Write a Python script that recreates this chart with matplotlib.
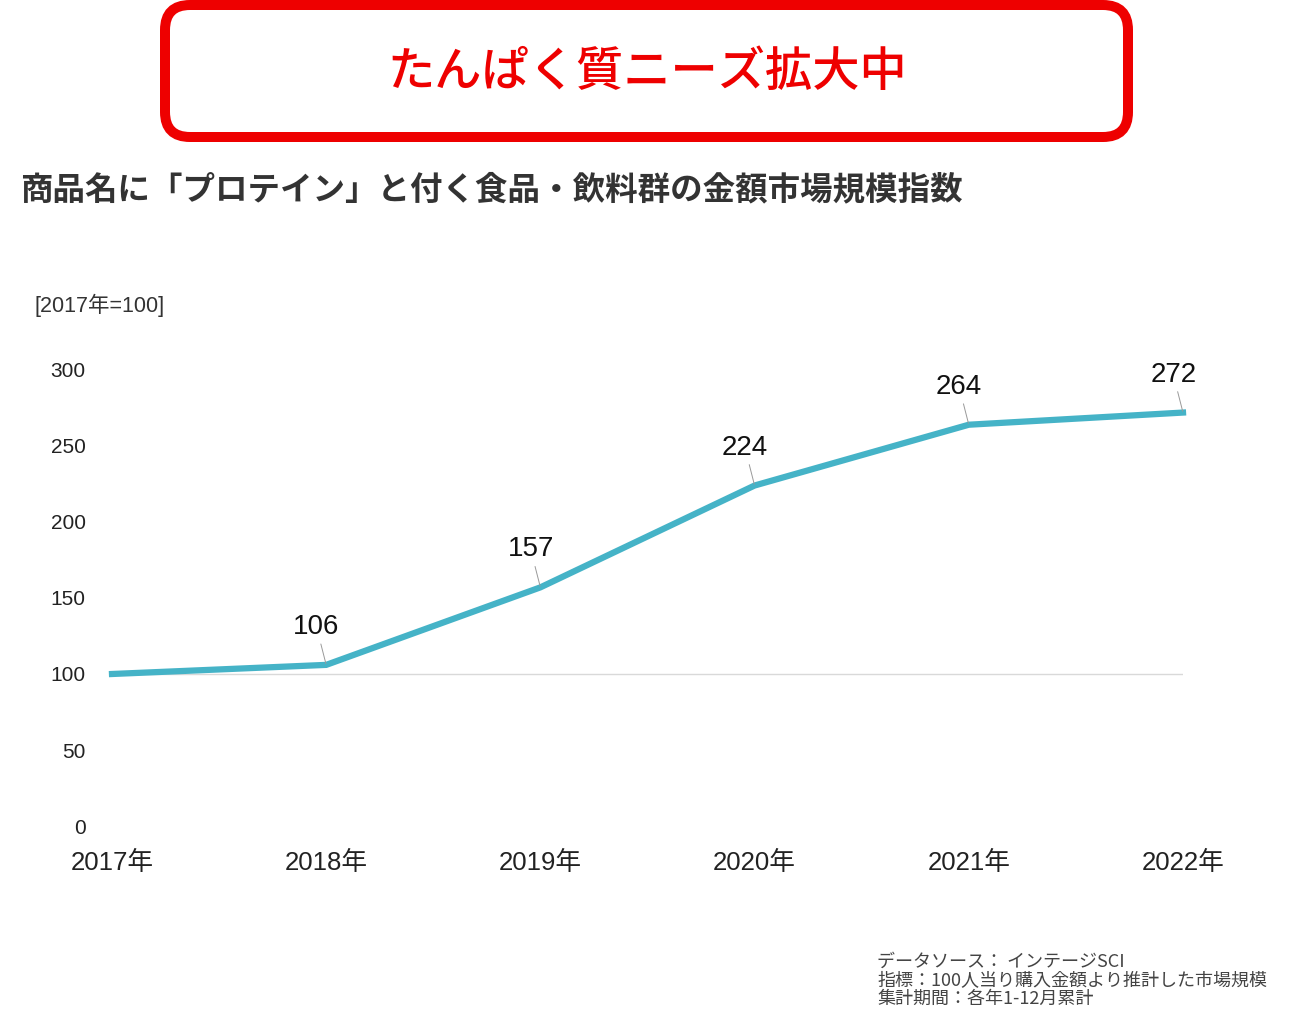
import matplotlib
matplotlib.use("Agg")
from matplotlib import pyplot as plt
from matplotlib.patches import FancyBboxPatch

plt.rcParams['font.family'] = ['Noto Sans CJK JP', 'DejaVu Sans']

# data
years = ['2017年', '2018年', '2019年', '2020年', '2021年', '2022年']
index_values = [100, 106, 157, 224, 264, 272]
y_ticks = [0, 50, 100, 150, 200, 250, 300]

headline = 'たんぱく質ニーズ拡大中'
subtitle = '商品名に「プロテイン」と付く食品・飲料群の金額市場規模指数'
unit_label = '[2017年=100]'
source_lines = ['データソース： インテージSCI',
                '指標：100人当り購入金額より推計した市場規模',
                '集計期間：各年1-12月累計']

num_font = ['Liberation Sans', 'Noto Sans CJK JP']
line_color = '#45B3C7'
red = '#EE0000'

fig = plt.figure(figsize=(12.93, 10.23), dpi=100)

# red rounded box with headline (inch coords keep corners round)
box = FancyBboxPatch((1.65, 8.86), 11.28 - 1.65, 10.18 - 8.86,
                     boxstyle='round,pad=0,rounding_size=0.25',
                     transform=fig.dpi_scale_trans, fill=False,
                     edgecolor=red, linewidth=7.2)
fig.patches.append(box)
fig.text(647 / 1293, 1 - 72 / 1023, headline, color=red, fontsize=34,
         fontweight='medium', ha='center', va='center')

fig.text(20 / 1293, 1 - 190 / 1023, subtitle, color='#333333', fontsize=23.4,
         fontweight='bold', ha='left', va='center')

fig.text(35 / 1293, 1 - 305 / 1023, unit_label, color='#333333', fontsize=15.5,
         family=num_font, ha='left', va='center')

# chart area
ax = fig.add_axes([112 / 1293, 1 - 826 / 1023, 1071 / 1293, 456 / 1023])
x = list(range(len(years)))
ax.axhline(100, color='#d9d9d9', linewidth=1, zorder=1)
ax.plot(x, index_values, color=line_color, linewidth=4.5,
        solid_joinstyle='miter', clip_on=False, zorder=3)

for xi, v in zip(x[1:], index_values[1:]):
    ax.annotate(str(v), xy=(xi, v), xytext=(-7, 18), textcoords='offset points',
                ha='center', va='bottom', fontsize=20, family=num_font,
                color='#111111',
                arrowprops=dict(arrowstyle='-', color='#999999', linewidth=0.7,
                                shrinkA=1, shrinkB=1))

ax.set_xlim(0, len(years) - 1)
ax.set_ylim(0, 300)
ax.set_yticks(y_ticks)
ax.set_yticklabels([str(t) for t in y_ticks], family=num_font, fontsize=15,
                   color='#222222')
ax.set_xticks(x)
ax.set_xticklabels(years, family=num_font, fontsize=18.5, color='#222222')
ax.tick_params(axis='y', length=0, pad=19)
ax.tick_params(axis='x', length=0, pad=18)
for s in ax.spines.values():
    s.set_visible(False)

fig.text(877 / 1293, 1 - 953 / 1023, '\n'.join(source_lines), color='#444444',
         fontsize=13, ha='left', va='top', linespacing=1.02)

fig.savefig('out.png', dpi=100)
